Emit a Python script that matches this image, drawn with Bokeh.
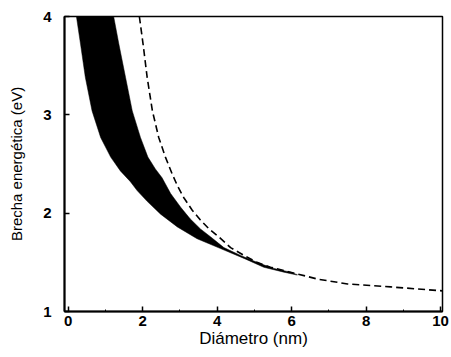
from bokeh.plotting import figure
from bokeh.models import Range1d, FixedTicker
from bokeh.embed import file_html
from bokeh.resources import INLINE

# Dashed curve (diameter nm, energy eV)
dash_d = [1.91, 2.01, 2.12, 2.26, 2.43, 2.61, 2.79, 2.93, 3.10, 3.33, 3.55, 3.78, 4.04,
          4.36, 4.72, 5.07, 5.43, 5.97, 6.69, 7.50, 8.66, 10.05]
dash_E = [4.0, 3.72, 3.38, 3.04, 2.77, 2.57, 2.40, 2.28, 2.16, 2.03, 1.93, 1.84, 1.76,
          1.65, 1.57, 1.50, 1.45, 1.40, 1.33, 1.28, 1.25, 1.21]

# Black band: upper (right) boundary and lower (left) boundary
band_upper_d = [1.22, 1.36, 1.54, 1.72, 1.94, 2.14, 2.34, 2.52, 2.75, 3.02, 3.28, 3.55,
                3.82, 4.18, 4.63, 5.07, 5.50, 5.97, 6.15]
band_upper_E = [4.0, 3.72, 3.38, 3.04, 2.77, 2.57, 2.45, 2.36, 2.20, 2.06, 1.94, 1.84,
                1.76, 1.65, 1.57, 1.50, 1.44, 1.40, 1.375]
band_lower_d = [0.22, 0.33, 0.46, 0.64, 0.87, 1.14, 1.40, 1.67, 1.85, 2.12, 2.48, 2.93,
                3.46, 4.09, 4.72, 5.25, 5.79, 6.15]
band_lower_E = [4.0, 3.72, 3.38, 3.04, 2.77, 2.57, 2.43, 2.32, 2.23, 2.12, 1.99, 1.86,
                1.74, 1.64, 1.54, 1.45, 1.40, 1.37]

x_ticks = [0, 2, 4, 6, 8, 10]
x_minor = [1, 3, 5, 7, 9]
y_ticks = [1, 2, 3, 4]

p = figure(output_backend="svg", toolbar_location=None,
           frame_width=378, frame_height=295,
           x_range=Range1d(-0.1, 10.05), y_range=Range1d(1, 4),
           min_border_left=64, min_border_top=16, min_border_right=9, min_border_bottom=46)
p.background_fill_color = "white"
p.border_fill_color = "white"
p.grid.visible = False
p.outline_line_color = "black"
p.outline_line_width = 1.5

patch_x = band_upper_d + band_lower_d[::-1]
patch_y = band_upper_E + band_lower_E[::-1]
p.patch(patch_x, patch_y, fill_color="black", line_color="black", line_width=0.5)
p.line(dash_d, dash_E, line_dash="7 4", line_width=1.6, line_color="black")

font = "Liberation Sans"
for ax in (p.xaxis[0], p.yaxis[0]):
    ax.axis_line_color = "black"
    ax.axis_line_width = 2
    ax.major_tick_in = 5
    ax.major_tick_out = 0
    ax.minor_tick_in = 2
    ax.minor_tick_out = 0
    ax.major_tick_line_width = 1.5
    ax.major_label_text_font = font
    ax.major_label_text_font_size = "15px"
    ax.major_label_text_font_style = "bold"
    ax.major_label_text_color = "black"
    ax.axis_label_text_font = font
    ax.axis_label_text_font_style = "normal"
    ax.axis_label_text_color = "black"

p.xaxis.axis_label_text_font_size = "17px"
p.yaxis.axis_label_text_font_size = "15px"
p.xaxis.ticker = FixedTicker(ticks=x_ticks, minor_ticks=x_minor)
p.yaxis.ticker = FixedTicker(ticks=y_ticks)
p.yaxis.minor_tick_line_color = None
p.xaxis.major_label_standoff = 4
p.yaxis.major_label_standoff = 13
p.xaxis.axis_label = "Diámetro (nm)"
p.yaxis.axis_label = "Brecha energética (eV)"
p.xaxis.axis_label_standoff = 0
p.yaxis.axis_label_standoff = 15

open("out.html", "w").write(file_html(p, INLINE))
